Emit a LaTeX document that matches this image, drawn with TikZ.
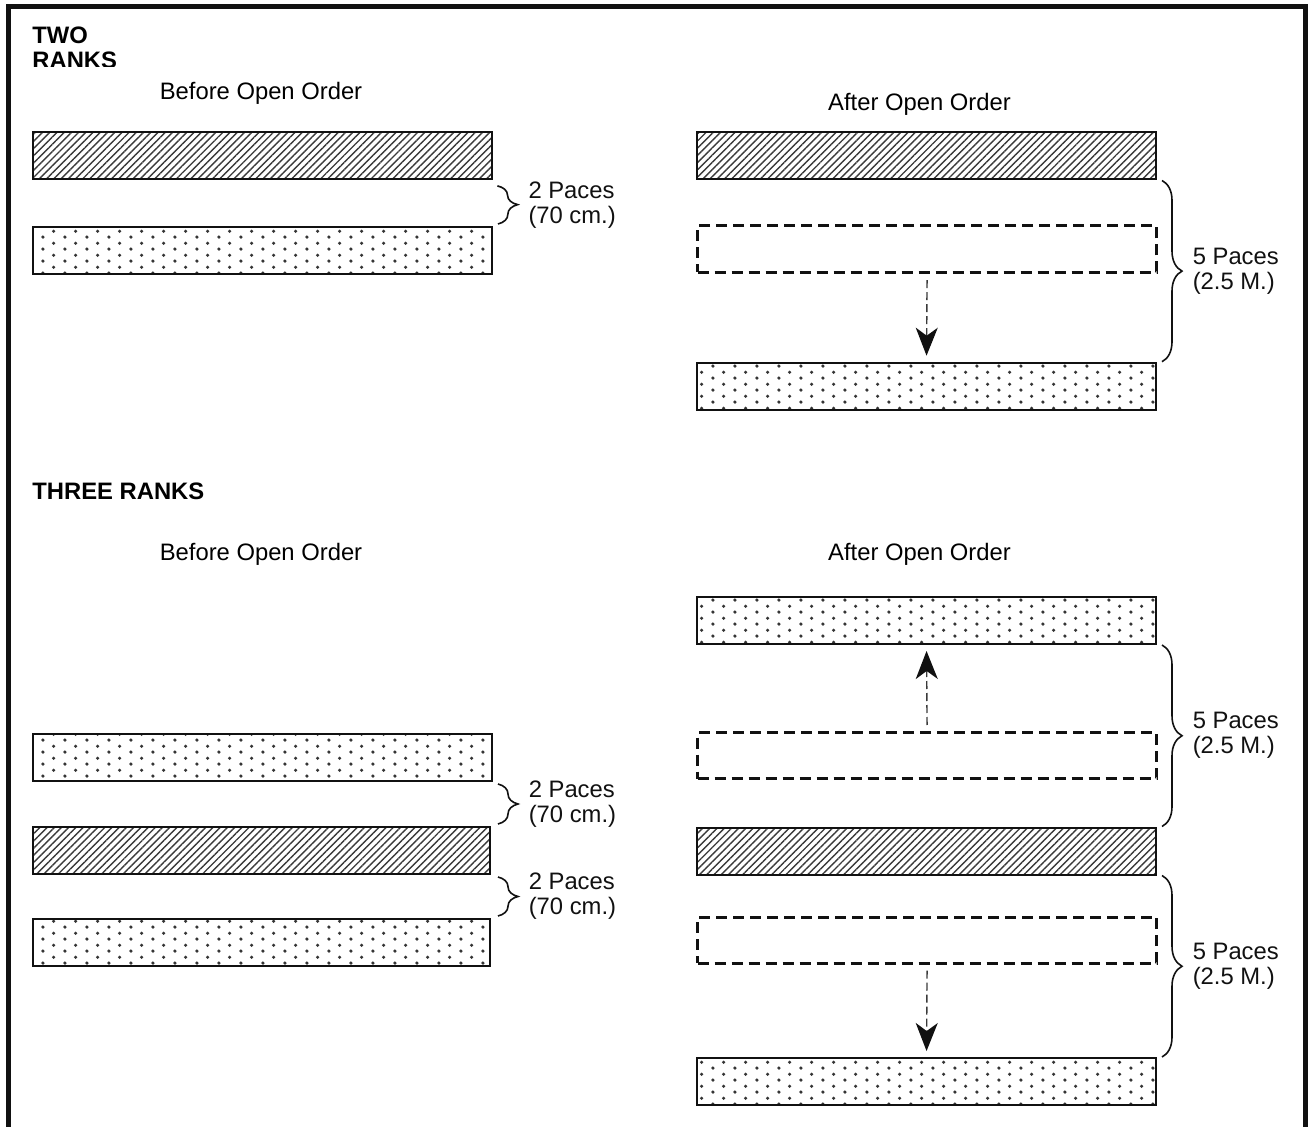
\documentclass[tikz,border=0pt]{standalone}
\usepackage{fontspec}
\setmainfont{Liberation Sans}
\usepackage{xcolor}
\definecolor{RankInk}  {HTML}{111111}
\definecolor{RankGray} {HTML}{3A3A3A}
\usepackage{tikz}
\usetikzlibrary{arrows.meta,positioning,patterns.meta,
  decorations.pathreplacing}
\tikzdeclarepattern{name=rankdots,type=uncolored,
  bottom left={(-1pt,-1pt)},top right={(9.8pt,4.85pt)},
  tile size={(10.8pt,5.85pt)},
  code={\fill (0pt,0pt) circle (0.9pt);
        \fill (5.4pt,2.925pt) circle (0.9pt);}}
\newcommand{\labelFont}{\fontsize{11.9}{12.5}\selectfont}
\tikzset{
  rankbar/.style={draw=RankInk,line width=1pt,inner sep=0pt,
    minimum width=229.5pt,minimum height=23.5pt,anchor=north west},
  hatchbar/.style={rankbar,pattern color=RankGray,
    pattern={Lines[angle=45,distance=2.55pt,line width=0.7pt]}},
  dotbar/.style={rankbar,pattern color=RankInk!85,pattern=rankdots},
  ghostbar/.style={rankbar,line width=1.6pt,dash pattern=on 5.5pt off 3pt},
  movearrow/.style={line width=0.7pt,RankGray,dash pattern=on 4pt off 2pt,
    shorten <=3pt,shorten >=3pt,
    -{Stealth[length=14pt,width=11pt,inset=4pt,color=RankInk]}},
  pacebrace/.style={RankInk,line width=0.8pt,decorate,
    decoration={brace,amplitude=10pt}},
  pacelabel/.style={midway,right=15pt,inner sep=0pt,align=left},
  heading/.style={font=\labelFont\bfseries,inner sep=0pt},
  caption/.style={inner sep=0pt,anchor=base}
}
\begin{document}
\begin{tikzpicture}[x=0.5pt,y=-0.5pt,font=\labelFont]
  \useasboundingbox (0,0) rectangle (1311,1127);
  % Frame (open at the foot)
  \draw[RankInk,line width=2.5pt]
    (8.5,1140) -- (8.5,7) -- (1305,7) -- (1305,1140);
  % ---------------- Two ranks ----------------
  \begin{scope}
    \clip (20,12) rectangle (220,66.5);
    \node[heading,align=left,anchor=north west] (twoRanks)
      at (32,26) {TWO\\RANKS};
  \end{scope}
  \node[caption] (beforeA) at (261,99.3) {Before Open Order};
  \node[caption] (afterA)  at (919.5,111) {After Open Order};
  % before
  \node[hatchbar] (hatchLA) at (32,131.5) {};
  \node[dotbar]   (dotLA)   at (32,226) {};
  \draw[pacebrace] ([xshift=2.5pt,yshift=-3pt]hatchLA.south east)
    -- ([xshift=2.5pt,yshift=1pt]dotLA.north east)
    node[pacelabel] (paceLA) {2 Paces\\(70 cm.)};
  % after
  \node[hatchbar] (hatchRA) at (696,131.5) {};
  \node[ghostbar,minimum height=23.3pt] (ghostRA) at (696,224.3) {};
  \node[dotbar]   (dotRA)   at (696,361.7) {};
  \draw[movearrow] (ghostRA.south) -- (dotRA.north);
  \draw[pacebrace] ([xshift=2.5pt]hatchRA.south east)
    -- ([xshift=2.5pt]dotRA.north east)
    node[pacelabel] (paceRA) {5 Paces\\(2.5 M.)};
  % ---------------- Three ranks ----------------
  \node[heading,anchor=base west] (threeRanks) at (32,500) {THREE RANKS};
  \node[caption] (beforeB) at (261,561) {Before Open Order};
  \node[caption] (afterB)  at (919.5,561) {After Open Order};
  % before
  \node[dotbar]   (dotLB1)  at (32,733) {};
  \node[hatchbar,minimum width=228.5pt] (hatchLB) at (32,826) {};
  \node[dotbar,minimum width=228.5pt]   (dotLB2)  at (32,918) {};
  \draw[pacebrace] ([xshift=2.5pt,yshift=-1pt]dotLB1.south east)
    -- ([xshift=3.5pt,yshift=1pt]hatchLB.north east)
    node[pacelabel] (paceLB1) {2 Paces\\(70 cm.)};
  \draw[pacebrace] ([xshift=3.5pt,yshift=-1pt]hatchLB.south east)
    -- ([xshift=3.5pt,yshift=1pt]dotLB2.north east)
    node[pacelabel] (paceLB2) {2 Paces\\(70 cm.)};
  % after
  \node[dotbar]   (dotRB1)   at (696,596) {};
  \node[ghostbar,minimum height=23pt] (ghostRB1) at (696,731) {};
  \node[hatchbar] (hatchRB)  at (696,826.5) {};
  \node[ghostbar,minimum height=23pt] (ghostRB2) at (696,915.5) {};
  \node[dotbar]   (dotRB2)   at (696,1057) {};
  \draw[movearrow] (ghostRB1.north) -- (dotRB1.south);
  \draw[movearrow] (ghostRB2.south) -- (dotRB2.north);
  \draw[pacebrace] ([xshift=2.5pt]dotRB1.south east)
    -- ([xshift=2.5pt]hatchRB.north east)
    node[pacelabel] (paceRB1) {5 Paces\\(2.5 M.)};
  \draw[pacebrace] ([xshift=2.5pt]hatchRB.south east)
    -- ([xshift=2.5pt]dotRB2.north east)
    node[pacelabel] (paceRB2) {5 Paces\\(2.5 M.)};
\end{tikzpicture}
\end{document}
